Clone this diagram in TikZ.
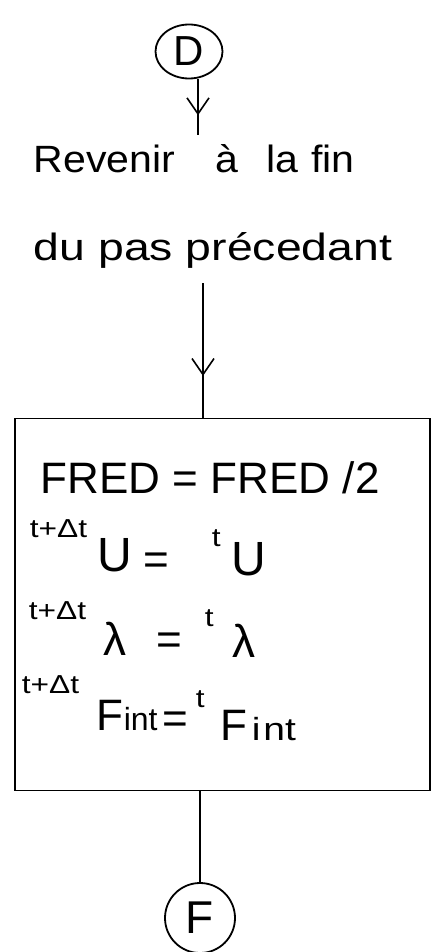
\documentclass[tikz,border=0pt]{standalone}
\usepackage{fontspec}
\setsansfont{Liberation Sans}
\newfontfamily\hw{Liberation Sans}[FakeStretch=1.22]
\newfontfamily\hwn{Liberation Sans}
\newfontfamily\hwr{Liberation Sans}[FakeStretch=1.08]
\usetikzlibrary{shapes.geometric,decorations.markings}
\begin{document}
\begin{tikzpicture}[x=1pt,y=-1pt,line width=1.8pt,
  term/.style={ellipse,draw,minimum width=#1,inner sep=0},
  lbl/.style={inner sep=0,anchor=base west,font=\hw\fontsize{38}{42}\selectfont},
  big/.style={inner sep=0,anchor=base west,font=\hwn\fontsize{44}{48}\selectfont},
  sup/.style={inner sep=0,anchor=base west,font=\hw\fontsize{26}{28}\selectfont},
  vee/.style={postaction={decorate},decoration={markings,mark=at position #1 with {\draw[line width=1.6pt] (-16pt,-11pt) -- (0pt,0pt) -- (-16pt,11pt);}}}]
\useasboundingbox (0,0) rectangle (431,952);
% terminals
\node[term=67pt,minimum height=54pt,font=\hwn\fontsize{42}{44}\selectfont] (D) at (189,51.5) {D};
\node[term=70pt,minimum height=70pt,font=\hwn\fontsize{46}{48}\selectfont] (F) at (200,918) {F};
% text
\node[lbl,font=\hwr\fontsize{38}{42}\selectfont] (r1) at (33,173) {Revenir\hspace{40pt}à\hspace{28pt}la\hspace{13pt}fin};
\node[lbl] (r2) at (33,260) {du pas précedant};
% box
\node[draw,minimum width=415pt,minimum height=372pt,inner sep=0] (box) at (222.5,604.5) {};
% box content
\node[big] (l1) at (40,493) {FRED = FRED /2};
\node[sup] (s1) at (29,537) {t+Δt};
\node[big,font=\hwn\fontsize{48}{50}\selectfont] (u1) at (97,571) {U};
\node[big] (e1) at (143,574) {=};
\node[sup] (s2) at (211,546) {t};
\node[big,font=\hwn\fontsize{48}{50}\selectfont] (u2) at (231,575) {U};
\node[sup] (s3) at (28,619) {t+Δt};
\node[big,font=\hwn\fontsize{46}{50}\selectfont] (la1) at (103,655) {λ};
\node[big] (e2) at (156,654) {=};
\node[sup] (s4) at (204,626) {t};
\node[big,font=\hwn\fontsize{46}{50}\selectfont] (la2) at (232,657) {λ};
\node[sup] (s5) at (21,693) {t+Δt};
\node[big] (f1) at (96,730) {F{\fontsize{32}{34}\selectfont int}};
\node[big] (e3) at (162,733) {=};
\node[sup] (s6) at (195,707) {t};
\node[big] (f2) at (220,740) {F{\hw\fontsize{32}{34}\selectfont\hspace{4pt}i\hspace{3pt}nt}};
% connectors
\coordinate (c1) at (198,135);
\coordinate (c2) at (203,283);
\draw[vee=0.62] (D.south -| c1) -- (c1);
\draw[vee=0.68] (c2) -- (c2 |- box.north);
\draw (box.south -| F) -- (F.north);
\end{tikzpicture}
\end{document}
